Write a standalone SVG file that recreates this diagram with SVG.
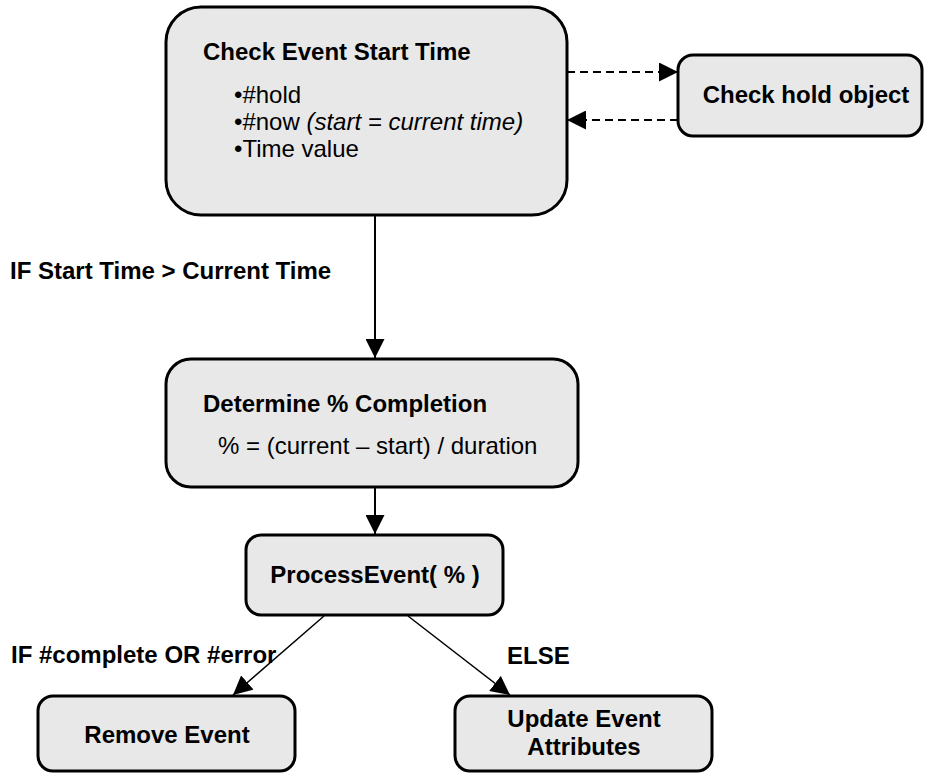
<svg xmlns="http://www.w3.org/2000/svg" width="925" height="774" viewBox="0 0 925 774">
  <style>
    .box { fill: #e8e8e8; stroke: #000; stroke-width: 3; }
    .t { font-family: "Liberation Sans", Arial, Helvetica, sans-serif; font-size: 24px; fill: #000; }
    .b { font-weight: bold; }
    .i { font-style: italic; }
    .mid { text-anchor: middle; }
    .edge { stroke: #000; stroke-width: 2; fill: none; }
    .thin { stroke-width: 1.5; }
    .dash { stroke-dasharray: 8 5; }
  </style>
  <defs>
    <marker id="arrow" viewBox="0 0 10 10" refX="10" refY="5" markerUnits="userSpaceOnUse" markerWidth="19" markerHeight="19" orient="auto">
      <path d="M0,0 L10,5 L0,10 z" fill="#000"/>
    </marker>
  </defs>

  <!-- connectors -->
  <g id="connectors">
    <line class="edge dash" x1="567" y1="72" x2="678" y2="72" marker-end="url(#arrow)"/>
    <line class="edge dash" x1="678" y1="120" x2="567" y2="120" marker-end="url(#arrow)"/>
    <line class="edge" x1="375" y1="216" x2="375" y2="358" marker-end="url(#arrow)"/>
    <line class="edge" x1="375" y1="488" x2="375" y2="534" marker-end="url(#arrow)"/>
    <line class="edge thin" x1="324" y1="616" x2="233" y2="695" marker-end="url(#arrow)"/>
    <line class="edge thin" x1="408" y1="616" x2="510" y2="695" marker-end="url(#arrow)"/>
    <text class="t b" x="10" y="279">IF Start Time &gt; Current Time</text>
    <text class="t b" x="11" y="663">IF #complete OR #error</text>
    <text class="t b" x="507" y="664">ELSE</text>
  </g>

  <!-- start time check -->
  <g id="check-start">
    <rect class="box" x="166" y="7" width="401" height="208" rx="35" ry="35"/>
    <text class="t b" x="203" y="60">Check Event Start Time</text>
    <text class="t" x="234" y="103">•#hold</text>
    <text class="t" x="234" y="130">•#now <tspan class="i">(start = current time)</tspan></text>
    <text class="t" x="234" y="157">•Time value</text>
  </g>

  <!-- hold object check -->
  <g id="check-hold">
    <rect class="box" x="678" y="55" width="244" height="81" rx="15" ry="15"/>
    <text class="t b mid" x="806" y="103">Check hold object</text>
  </g>

  <!-- completion -->
  <g id="completion">
    <rect class="box" x="166" y="359" width="412" height="128" rx="25" ry="25"/>
    <text class="t b" x="203" y="412">Determine % Completion</text>
    <text class="t" x="218" y="454">% = (current – start) / duration</text>
  </g>

  <!-- process event -->
  <g id="process-event">
    <rect class="box" x="246" y="535" width="257" height="80" rx="15" ry="15"/>
    <text class="t b mid" x="375" y="583">ProcessEvent( % )</text>
  </g>

  <!-- remove event -->
  <g id="remove-event">
    <rect class="box" x="38" y="696" width="257" height="75" rx="15" ry="15"/>
    <text class="t b mid" x="167" y="743">Remove Event</text>
  </g>

  <!-- update event attributes -->
  <g id="update-event">
    <rect class="box" x="455" y="696" width="257" height="75" rx="15" ry="15"/>
    <text class="t b mid" x="584" y="727">Update Event</text>
    <text class="t b mid" x="584" y="755">Attributes</text>
  </g>
</svg>
